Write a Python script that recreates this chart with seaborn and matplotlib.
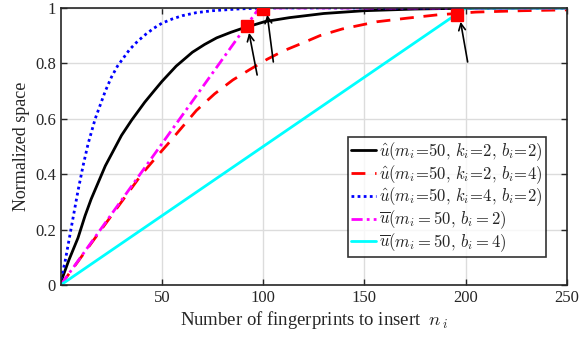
import matplotlib
matplotlib.use("Agg")
import matplotlib.pyplot as plt
import numpy as np
import pandas as pd
import seaborn as sns

# values
n_k2b2 = [0, 4, 8.5, 12, 15, 18.5, 22, 26, 30, 35, 41.5, 46, 50, 57, 65, 71, 77, 84, 90,
          101, 113, 130, 150, 175, 200, 250]
u_k2b2 = [0.01, 0.09, 0.17, 0.25, 0.31, 0.37, 0.43, 0.485, 0.54, 0.595, 0.66, 0.70, 0.735,
          0.79, 0.84, 0.868, 0.892, 0.912, 0.927, 0.951, 0.965, 0.98, 0.99, 0.996, 0.999, 1.0]

n_k2b4 = [0, 20, 40, 47, 53, 60, 67, 76, 85, 93, 102, 110, 120, 128, 139, 156, 171, 186,
          205, 228, 250]
u_k2b4 = [0, 0.2, 0.4, 0.46, 0.51, 0.57, 0.63, 0.69, 0.74, 0.776, 0.815, 0.845, 0.875, 0.9,
          0.924, 0.95, 0.963, 0.975, 0.985, 0.99, 0.993]

n_k4b2 = [0, 2, 5, 8.5, 11, 13.5, 17, 19.5, 22, 25, 28, 31, 34, 38, 42, 46, 50, 55, 60, 67,
          75, 87, 100, 250]
u_k4b2 = [0.02, 0.08, 0.2, 0.34, 0.43, 0.51, 0.6, 0.65, 0.70, 0.75, 0.79, 0.82, 0.85, 0.88,
          0.905, 0.927, 0.945, 0.96, 0.972, 0.983, 0.99, 0.996, 1.0, 1.0]

n_bar_b2 = [0, 98, 250]
u_bar_b2 = [0, 1.0, 1.0]

n_bar_b4 = [0, 200, 250]
u_bar_b4 = [0, 1.0, 1.0]

# red square markers and arrows (tail -> head)
mark_n = [92, 100, 195.5]
mark_u = [0.935, 0.997, 0.975]
arrow_tail_n = [97, 105, 201]
arrow_tail_u = [0.758, 0.805, 0.805]
arrow_head_n = [93, 102, 197.5]
arrow_head_u = [0.91, 0.975, 0.95]

sns.set_style("ticks")
plt.rcParams['font.family'] = ['Liberation Serif', 'DejaVu Serif']
plt.rcParams['mathtext.fontset'] = 'cm'
plt.rcParams['xtick.direction'] = 'in'
plt.rcParams['ytick.direction'] = 'in'

fig = plt.figure(figsize=(5.79, 3.45), dpi=100)
ax = fig.add_axes([0.105, 0.174, 0.874, 0.803])

sns.lineplot(x=n_k2b2, y=u_k2b2, ax=ax, color="black", lw=2,
             label=r'$\hat{u}(m_i\!=\!50,\,k_i\!=\!2,\,b_i\!=\!2)$')
sns.lineplot(x=n_k2b4, y=u_k2b4, ax=ax, color="red", lw=2, dashes=(5, 3.5),
             label=r'$\hat{u}(m_i\!=\!50,\,k_i\!=\!2,\,b_i\!=\!4)$')
sns.lineplot(x=n_k4b2, y=u_k4b2, ax=ax, color="blue", lw=2, dashes=(1, 1.2),
             label=r'$\hat{u}(m_i\!=\!50,\,k_i\!=\!4,\,b_i\!=\!2)$')
sns.lineplot(x=n_bar_b2, y=u_bar_b2, ax=ax, color="magenta", lw=2, dashes=(4, 1.5, 1, 1.5),
             label=r'$\overline{u}(m_i = 50,\,b_i = 2)$')
sns.lineplot(x=n_bar_b4, y=u_bar_b4, ax=ax, color="cyan", lw=2,
             label=r'$\overline{u}(m_i = 50,\,b_i = 4)$')

ax.plot(mark_n, mark_u, ls="none", marker="s", ms=8.5, color="red", zorder=5)
for i in range(len(mark_n)):
    ax.annotate("", xy=(arrow_head_n[i], arrow_head_u[i]),
                xytext=(arrow_tail_n[i], arrow_tail_u[i]),
                arrowprops=dict(arrowstyle="->", color="black", lw=1.2,
                                shrinkA=0, shrinkB=0, mutation_scale=12),
                zorder=6)

ax.set_xlim(0, 250)
ax.set_ylim(0, 1)
ax.set_xticks([50, 100, 150, 200, 250])
ax.set_yticks([0, 0.2, 0.4, 0.6, 0.8, 1])
ax.set_yticklabels(["0", "0.2", "0.4", "0.6", "0.8", "1"])
ax.tick_params(labelsize=12, top=True, right=True, length=4, width=1, colors="#262626")
ax.grid(True, color="#dcdcdc", lw=1)
ax.set_axisbelow(True)
for s in ax.spines.values():
    s.set_linewidth(1.2)
    s.set_color("#262626")

ax.set_xlabel(r'Number of fingerprints to insert  $n_{\,i}$', fontsize=13.5, labelpad=2)
ax.set_ylabel("Normalized space", fontsize=13, labelpad=4)

leg = ax.legend(loc="lower right", bbox_to_anchor=(0.958, 0.1), fontsize=12,
                handlelength=1.5, handletextpad=0.15, borderpad=0.2,
                labelspacing=0.0, frameon=True, fancybox=False, borderaxespad=0)
leg.get_frame().set_edgecolor("black")
leg.get_frame().set_linewidth(1.2)

plt.savefig("out.png", dpi=100)
plt.close()
